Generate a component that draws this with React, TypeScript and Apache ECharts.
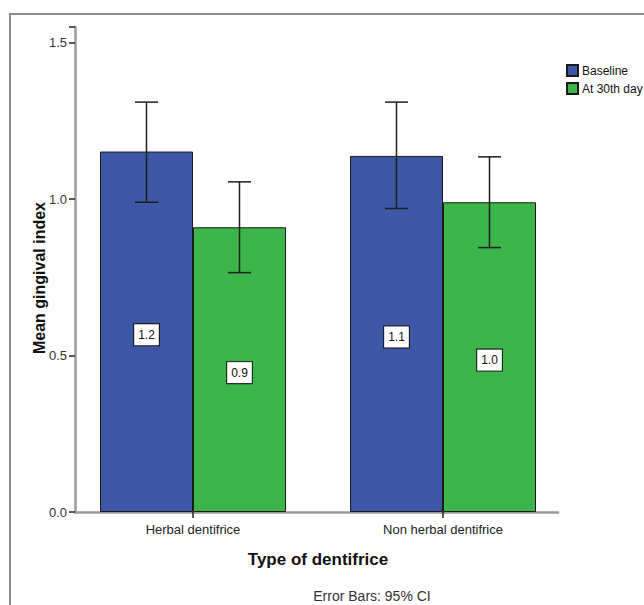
import React, { useEffect, useRef } from "react";
import * as echarts from "echarts";

const categories = ["Herbal dentifrice", "Non herbal dentifrice"];
const seriesNames = ["Baseline", "At 30th day"];
const baselineMean = [1.152, 1.138];
const day30Mean = [0.91, 0.99];
const baselineLow = [0.99, 0.97];
const baselineHigh = [1.31, 1.31];
const day30Low = [0.765, 0.845];
const day30High = [1.055, 1.135];
const yTicks = [0, 0.5, 1.0, 1.5];

const FONT = 'Arial, "Liberation Sans", sans-serif';
const BAR_FRAC = 0.372;

export default function App() {
  const ref = useRef<HTMLDivElement>(null);
  useEffect(() => {
    const chart = echarts.init(ref.current!, null, { renderer: "svg" });
    const errData = (lo: number[], hi: number[]) => categories.map((_, i) => [i, lo[i], hi[i]]);
    const errSeries = (name: string, lo: number[], hi: number[], sign: number) => ({
      type: "custom",
      name: name + " CI",
      xAxisIndex: 1,
      yAxisIndex: 1,
      silent: true,
      z: 5,
      encode: { x: 0, y: [1, 2] },
      data: errData(lo, hi),
      renderItem: (params: any, api: any) => {
        const band = api.size([1, 0])[0];
        const off = (band * BAR_FRAC) / 2 * sign;
        const pHi = api.coord([api.value(0), api.value(2)]);
        const pLo = api.coord([api.value(0), api.value(1)]);
        const x = pHi[0] + off;
        const cap = 11.5;
        const st = { stroke: "#1e1e1e", lineWidth: 1.5 };
        return {
          type: "group",
          children: [
            { type: "line", shape: { x1: x, y1: pHi[1], x2: x, y2: pLo[1] }, style: st },
            { type: "line", shape: { x1: x - cap, y1: pHi[1], x2: x + cap, y2: pHi[1] }, style: st },
            { type: "line", shape: { x1: x - cap, y1: pLo[1], x2: x + cap, y2: pLo[1] }, style: st },
          ],
        };
      },
    });
    const barLabel = {
      show: true,
      position: "inside",
      offset: [0, 3],
      formatter: (p: any) => Number(p.value).toFixed(1),
      color: "#111",
      fontSize: 12,
      fontFamily: FONT,
      backgroundColor: "#ffffff",
      borderColor: "#111",
      borderWidth: 1,
      padding: [5, 4, 4, 4],
    };
    chart.setOption({
      animation: false,
      textStyle: { fontFamily: FONT },
      grid: [
        { left: 75, right: 86, top: 27, bottom: 93 },
        { left: 68, right: 76, top: 27, bottom: 93 },
      ],
      legend: {
        data: seriesNames,
        orient: "vertical",
        left: 561,
        top: 59,
        itemWidth: 11,
        itemHeight: 11,
        itemGap: 5,
        icon: "rect",
        textStyle: { fontSize: 12, color: "#111", fontFamily: FONT, padding: [0, 0, 0, -1] },
      },
      xAxis: [
        {
          type: "category",
          gridIndex: 0,
          data: categories,
          axisLine: { show: true, lineStyle: { color: "#9a9a9a", width: 2.5 } },
          axisTick: { show: false },
          axisLabel: { show: false },
        },
        {
          type: "category",
          gridIndex: 1,
          data: categories,
          axisLine: { show: false },
          axisTick: { show: true, alignWithLabel: true, length: 6, lineStyle: { color: "#222", width: 1.5 } },
          axisLabel: { show: true, fontSize: 13, color: "#222", margin: 11, fontFamily: FONT },
          name: "Type of dentifrice",
          nameLocation: "middle",
          nameGap: 39,
          nameTextStyle: { fontSize: 17, fontWeight: "bold", color: "#111", fontFamily: FONT },
        },
      ],
      yAxis: [
        {
          type: "value",
          gridIndex: 0,
          min: 0,
          max: 1.55,
          interval: 0.5,
          axisLine: { show: true, lineStyle: { color: "#9a9a9a", width: 2.5 } },
          axisTick: { show: true, length: 6, lineStyle: { color: "#222", width: 1.5 } },
          axisLabel: {
            fontSize: 13,
            color: "#333",
            margin: 8,
            fontFamily: FONT,
            formatter: (v: number) => (yTicks.includes(v) ? v.toFixed(1) : ""),
          },
          splitLine: { show: false },
        },
        {
          type: "value",
          gridIndex: 1,
          min: 0,
          max: 1.55,
          interval: 0.5,
          show: false,
          splitLine: { show: false },
        },
      ],
      series: [
        {
          type: "bar",
          name: seriesNames[0],
          xAxisIndex: 1,
          yAxisIndex: 1,
          data: baselineMean,
          barWidth: BAR_FRAC * 100 + "%",
          barGap: "0%",
          itemStyle: { color: "#3d56a6", borderColor: "#1a1a1a", borderWidth: 1 },
          label: barLabel,
        },
        {
          type: "bar",
          name: seriesNames[1],
          xAxisIndex: 1,
          yAxisIndex: 1,
          data: day30Mean,
          barWidth: BAR_FRAC * 100 + "%",
          barGap: "0%",
          itemStyle: { color: "#3cb54a", borderColor: "#1a1a1a", borderWidth: 1 },
          label: barLabel,
        },
        errSeries(seriesNames[0], baselineLow, baselineHigh, -1),
        errSeries(seriesNames[1], day30Low, day30High, 1),
      ],
      graphic: [
        {
          type: "rect",
          shape: { x: 10, y: 14, width: 700, height: 700 },
          style: { fill: "none", stroke: "#8c8c8c", lineWidth: 2 },
          silent: true,
        },
        {
          type: "text",
          x: 39,
          y: 278,
          rotation: Math.PI / 2,
          style: {
            text: "Mean gingival index",
            fontSize: 16,
            fontWeight: "bold",
            fill: "#111",
            fontFamily: FONT,
            align: "center",
            verticalAlign: "middle",
          },
        },
        {
          type: "text",
          x: 372,
          y: 596,
          style: {
            text: "Error Bars: 95% CI",
            fontSize: 14,
            fill: "#333",
            fontFamily: FONT,
            align: "center",
            verticalAlign: "middle",
          },
        },
      ],
    });
    return () => chart.dispose();
  }, []);
  return (
    <div
      ref={ref}
      style={{ position: "fixed", left: 0, top: 0, width: 644, height: 605, background: "#fff" }}
    />
  );
}
